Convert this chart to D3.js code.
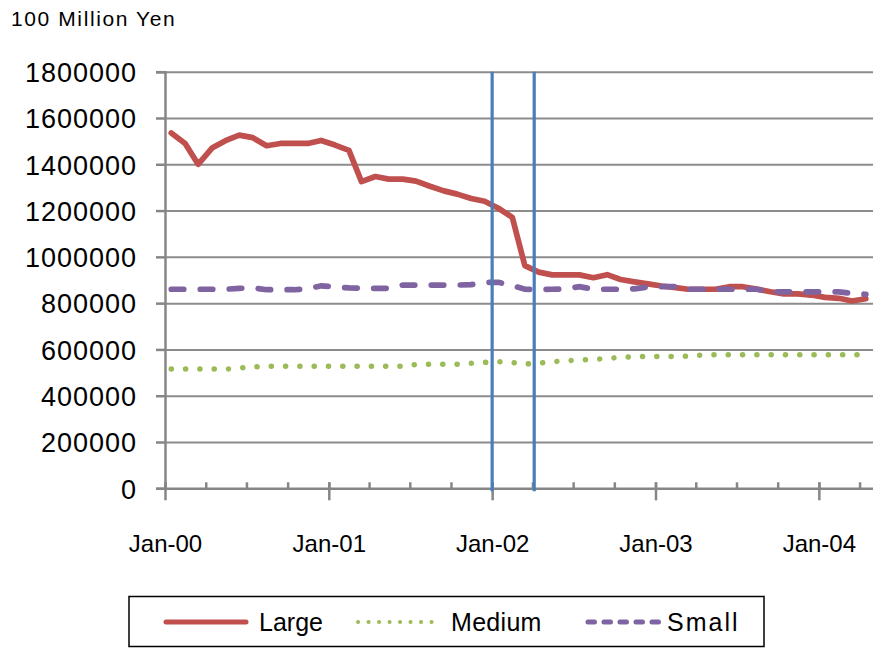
<!DOCTYPE html>
<html>
<head>
<meta charset="utf-8">
<title>Deposits by Bank Size</title>
<script src="https://cdn.jsdelivr.net/npm/d3@7"></script>
<style>
    body { margin: 0; background: #fff; }
    text { font-family: "Liberation Sans", Arial, sans-serif; fill: #000; }
    .grid line { stroke: #8c8c8c; stroke-width: 2; }
    .grid path { display: none; }
    .axis path, .axis line { stroke: #868686; stroke-width: 2.5; }
    .ylab text { font-size: 27px; letter-spacing: 1px; }
    .xlab text { font-size: 24px; }
    .legend text { font-size: 25px; }
</style>
</head>
<body>
<svg id="chart" width="873" height="649"></svg>
<script>
// monthly data, Jan-00 .. Apr-04 (100 million yen)
const months = d3.timeMonth.range(new Date(2000, 0, 1), new Date(2004, 4, 1));

const large = [1535000, 1490000, 1400000, 1470000, 1502000, 1526000, 1515000, 1480000, 1490000, 1490000,
               1490000, 1503000, 1483000, 1460000, 1325000, 1347000, 1336000, 1336000, 1327000, 1305000,
               1285000, 1271000, 1252000, 1240000, 1210000, 1171000, 962000, 934000, 922000, 922000,
               922000, 910000, 923000, 902000, 892000, 883000, 874000, 867000, 860000, 860000,
               860000, 871000, 871000, 861000, 849000, 840000, 840000, 835000, 825000, 821000,
               809000, 819000];

const medium = [515000, 515000, 515000, 515000, 515000, 519000, 525000, 527000, 527000, 527000,
                527000, 527000, 527000, 527000, 527000, 527000, 527000, 528000, 535000, 536000,
                536000, 536000, 540000, 544000, 547000, 543000, 537000, 540000, 547000, 551000,
                555000, 557000, 561000, 566000, 569000, 569000, 569000, 569000, 571000, 576000,
                577000, 577000, 577000, 577000, 577000, 577000, 577000, 577000, 577000, 577000,
                577000, 577000];

const small = [860000, 860000, 860000, 860000, 860000, 864000, 866000, 858000, 858000, 858000,
               862000, 875000, 870000, 866000, 864000, 864000, 864000, 878000, 878000, 878000,
               878000, 878000, 880000, 890000, 890000, 876000, 860000, 858000, 860000, 862000,
               871000, 860000, 860000, 860000, 862000, 870000, 871000, 871000, 860000, 860000,
               860000, 860000, 860000, 860000, 849000, 849000, 849000, 849000, 849000, 849000,
               842000, 838000];

const yTicks = [0, 200000, 400000, 600000, 800000, 1000000, 1200000, 1400000, 1600000, 1800000];

// vertical reference lines
const markers = [new Date(2002, 0, 1), new Date(2002, 3, 5)];

const seriesNames = ["Large", "Medium", "Small"];
const seriesColors = ["#c0504d", "#9bbb59", "#8064a2"];

const margin = {top: 71.7, right: 0, bottom: 160.7, left: 165};
const width = 873 - margin.left - margin.right;
const height = 649 - margin.top - margin.bottom;

const svg = d3.select("#chart");
const g = svg.append("g").attr("transform", `translate(${margin.left},${margin.top})`);

const x = d3.scaleTime()
    .domain([new Date(2000, 0, 1), new Date(2004, 4, 1)])
    .range([0, width]);

const y = d3.scaleLinear()
    .domain([0, 1800000])
    .range([height, 0]);

// gridlines
g.append("g")
    .attr("class", "grid")
    .call(d3.axisLeft(y).tickValues(yTicks.slice(1)).tickSize(-width).tickFormat(""));

// y axis
g.append("g")
    .attr("class", "axis ylab")
    .call(d3.axisLeft(y).tickValues(yTicks).tickSize(9).tickPadding(19).tickFormat(d3.format("d")))
    .call(s => s.selectAll("text").attr("dy", "0.36em"));

// x axis: quarterly minor ticks pointing up
g.append("g")
    .attr("class", "axis")
    .attr("transform", `translate(0,${height})`)
    .call(d3.axisBottom(x).ticks(d3.timeMonth.every(3)).tickSize(-6).tickSizeOuter(0).tickFormat(""));

// yearly major ticks crossing the axis, with labels
const xMajor = g.append("g")
    .attr("class", "axis xlab")
    .attr("transform", `translate(0,${height})`)
    .call(d3.axisBottom(x).ticks(d3.timeYear.every(1)).tickSize(12).tickPadding(35).tickSizeOuter(0)
        .tickFormat(d3.timeFormat("%b-%y")));
xMajor.select(".domain").remove();
xMajor.selectAll(".tick line").attr("y1", -6);

// data lines, points at mid-month
const line = d3.line()
    .x((d, i) => x(d3.timeDay.offset(months[i], 14)))
    .y(d => y(d))
    .curve(d3.curveLinear);

g.append("path")
    .datum(medium)
    .attr("d", line)
    .attr("fill", "none")
    .attr("stroke", seriesColors[1])
    .attr("stroke-width", 5.5)
    .attr("stroke-linecap", "round")
    .attr("stroke-dasharray", "0.1 14.2");

g.append("path")
    .datum(large)
    .attr("d", line)
    .attr("fill", "none")
    .attr("stroke", seriesColors[0])
    .attr("stroke-width", 5.7)
    .attr("stroke-linejoin", "round")
    .attr("stroke-linecap", "round");

g.append("path")
    .datum(small)
    .attr("d", line)
    .attr("fill", "none")
    .attr("stroke", seriesColors[2])
    .attr("stroke-width", 5.7)
    .attr("stroke-linecap", "round")
    .attr("stroke-dasharray", "12.5 16.5");

// blue reference lines
g.selectAll(".marker")
    .data(markers)
    .join("line")
    .attr("class", "marker")
    .attr("x1", d => x(d))
    .attr("x2", d => x(d))
    .attr("y1", 0)
    .attr("y2", height + 3)
    .attr("stroke", "#4a7ebb")
    .attr("stroke-width", 3.2);

// unit label
svg.append("text")
    .attr("x", 11)
    .attr("y", 26)
    .style("font-size", "21px")
    .style("letter-spacing", "1.6px")
    .text("100 Million Yen");

// legend
const legend = svg.append("g").attr("class", "legend");
legend.append("rect")
    .attr("x", 129).attr("y", 596.5)
    .attr("width", 635).attr("height", 50)
    .attr("fill", "#fff")
    .attr("stroke", "#000")
    .attr("stroke-width", 1.5);

const items = [
    {x0: 166, x1: 246, tx: 259, dash: null, w: 5, ls: 0},
    {x0: 358, x1: 437, tx: 451, dash: "0.1 10.4", w: 4, ls: 0.3},
    {x0: 588, x1: 660, tx: 667, dash: "6.5 9.5", w: 5, ls: 2}
];
items.forEach((it, i) => {
    legend.append("line")
        .attr("x1", it.x0).attr("x2", it.x1)
        .attr("y1", 622).attr("y2", 622)
        .attr("stroke", seriesColors[i])
        .attr("stroke-width", it.w)
        .attr("stroke-linecap", "round")
        .attr("stroke-dasharray", it.dash);
    legend.append("text")
        .attr("x", it.tx)
        .attr("y", 631)
        .style("letter-spacing", it.ls + "px")
        .text(seriesNames[i]);
});
</script>
</body>
</html>
